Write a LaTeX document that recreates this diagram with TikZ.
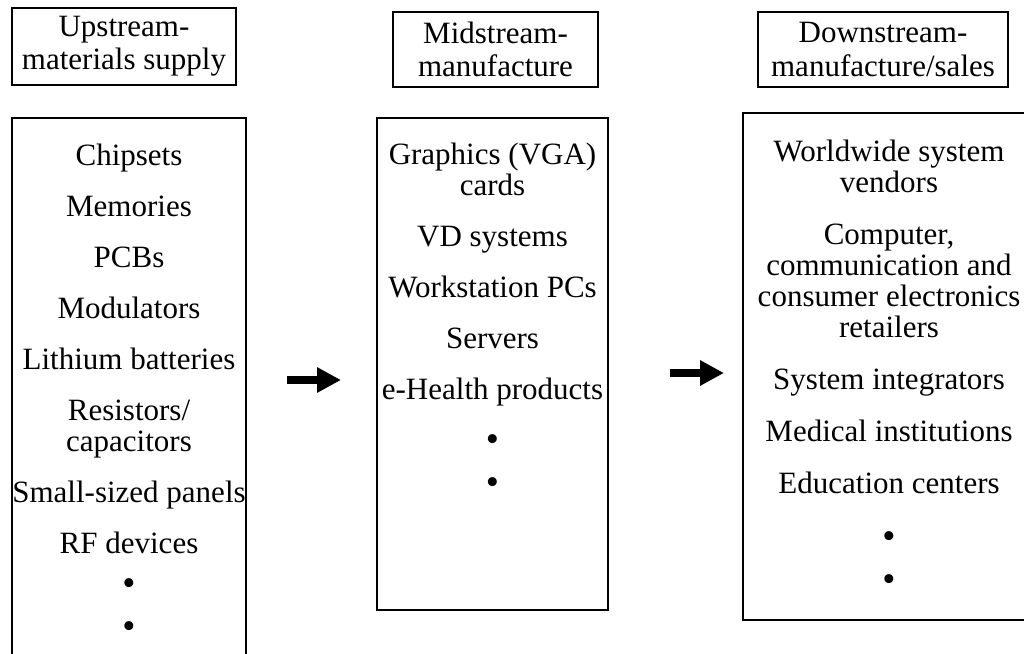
\documentclass[tikz,border=0pt]{standalone}
\usepackage{fontspec}
\setmainfont{Liberation Serif}
\usetikzlibrary{arrows.meta}

\begin{document}
\begin{tikzpicture}
	[x=0.4pt,y=-0.4pt,every node/.style={font=\fontsize{12.4}{13.2}\selectfont},
	box/.style={draw,line width=0.6pt,inner sep=0pt},
	head/.style={box,align=center,minimum height=30pt},
	item/.style={anchor=base},
	dot/.style={anchor=center,font=\fontsize{15}{15}\selectfont},
	flow/.style={line width=3.2pt,-{Triangle[length=9.6pt,width=9.6pt]}}]
	\useasboundingbox (0,0) rectangle (1024,653);
	\clip (0,0) rectangle (1024,653);

	% headings
	\node[head,minimum width=89.6pt,minimum height=30.8pt] (up) at (124,46.5) {Upstream-\\materials supply};
	\node[head,minimum width=82pt] (mid) at (495.5,49.5) {Midstream-\\manufacture};
	\node[head,minimum width=100pt] (down) at (883,49.5) {Downstream-\\manufacture/sales};

	% boxes
	\node[box,minimum width=93.6pt,minimum height=232.8pt] (upbox) at (129,409) {};
	\node[box,minimum width=92.4pt,minimum height=196.8pt] (midbox) at (492.5,364) {};
	\node[box,minimum width=116.8pt,minimum height=202.8pt] (downbox) at (889,366.5) {};

	% upstream items
	\foreach \txt/\y in {Chipsets/165,Memories/216,PCBs/267,Modulators/318,Lithium batteries/369,
		{Resistors/}/420,capacitors/451,Small-sized panels/502,RF devices/553}
	\node[item] (up-\y) at (129,\y) {\txt};
	\foreach \y in {587,630}
	\node[dot] (updot-\y) at (129,\y) {\textbullet};

	% midstream items
	\foreach \txt/\y in {Graphics (VGA)/164,cards/195,VD systems/246,Workstation PCs/297,
		Servers/348,e-Health products/399}
	\node[item] (mid-\y) at (492.5,\y) {\txt};
	\foreach \y in {443,486}
	\node[dot] (middot-\y) at (492.5,\y) {\textbullet};

	% downstream items
	\foreach \txt/\y in {Worldwide system/161,vendors/192,{Computer,}/244,communication and/275,
		consumer electronics/306,retailers/337,System integrators/389,Medical institutions/441,
		Education centers/493}
	\node[item] (down-\y) at (889,\y) {\txt};
	\foreach \y in {540,583}
	\node[dot] (downdot-\y) at (889,\y) {\textbullet};

	% arrows
	\coordinate (a1) at (287,380);
	\coordinate (b1) at (341,380);
	\coordinate (a2) at (670,373);
	\coordinate (b2) at (724,373);
	\foreach \from/\to in {a1/b1,a2/b2}
	\draw[flow] (\from) -- (\to);

\end{tikzpicture}
\end{document}
